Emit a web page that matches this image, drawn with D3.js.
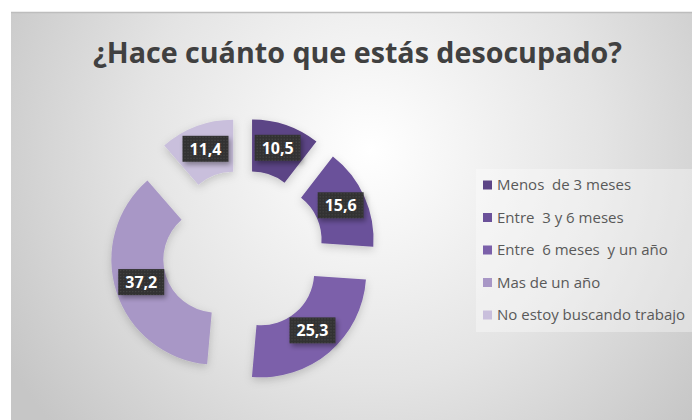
<!DOCTYPE html>
<html>
<head>
<meta charset="utf-8">
<script src="https://cdn.jsdelivr.net/npm/d3@7"></script>
<style>
  html, body { margin: 0; padding: 0; background: #fff; }
  svg { display: block; }
</style>
</head>
<body>
<div id="main"></div>
<script>
// chart data
var title = '¿Hace cuánto que estás desocupado?';
var categories = ['Menos  de 3 meses', 'Entre  3 y 6 meses', 'Entre  6 meses  y un año', 'Mas de un año', 'No estoy buscando trabajo'];
var values = [10.5, 15.6, 25.3, 37.2, 11.4];
var labels = ['10,5', '15,6', '25,3', '37,2', '11,4'];
var colors = ['#5c4486', '#6b519a', '#7b60aa', '#a897c6', '#c9bfdc'];

function create_donut() {

  var width = 692;
  var height = 420;

  var svg = d3.select('#main').append('svg').attr('width', width).attr('height', height);

  var defs = svg.append('defs');

  var grad = defs.append('radialGradient')
    .attr('id', 'bg')
    .attr('gradientUnits', 'userSpaceOnUse')
    .attr('cx', 370).attr('cy', 150).attr('r', 420);
  grad.append('stop').attr('offset', '0%').attr('stop-color', '#ffffff');
  grad.append('stop').attr('offset', '55%').attr('stop-color', '#e4e4e4');
  grad.append('stop').attr('offset', '100%').attr('stop-color', '#c6c6c6');

  var shadow = defs.append('filter').attr('id', 'shadow')
    .attr('x', '-30%').attr('y', '-30%').attr('width', '160%').attr('height', '160%');
  shadow.append('feDropShadow')
    .attr('dx', 2).attr('dy', 3).attr('stdDeviation', 2.5)
    .attr('flood-color', '#000').attr('flood-opacity', 0.35);

  var soft = defs.append('filter').attr('id', 'soft')
    .attr('x', '-20%').attr('y', '-20%').attr('width', '140%').attr('height', '140%');
  soft.append('feDropShadow')
    .attr('dx', 0).attr('dy', 3).attr('stdDeviation', 4)
    .attr('flood-color', '#000').attr('flood-opacity', 0.18);

  var dots = defs.append('pattern').attr('id', 'dots')
    .attr('width', 3).attr('height', 3).attr('patternUnits', 'userSpaceOnUse');
  dots.append('rect').attr('width', 3).attr('height', 3).attr('fill', '#333333');
  dots.append('rect').attr('width', 1).attr('height', 1).attr('fill', '#4a4a4a');

  // chart area
  svg.append('rect')
    .attr('x', 11).attr('y', 12)
    .attr('width', width - 11).attr('height', height - 12)
    .attr('fill', 'url(#bg)');

  svg.append('line')
    .attr('x1', 11).attr('x2', width)
    .attr('y1', 12.5).attr('y2', 12.5)
    .attr('stroke', '#bdbdbd').attr('stroke-width', 1.5);

  // title
  var t = svg.append('text')
    .attr('x', 357.5).attr('y', 63)
    .attr('text-anchor', 'middle')
    .attr('font-family', 'Open Sans, sans-serif')
    .attr('font-weight', 700)
    .attr('font-size', 28)
    .attr('fill', '#404040')
    .text(title);
  var tw = t.node().getComputedTextLength();
  t.attr('font-size', 28 * 529 / tw);

  // donut
  var cx = 243;
  var cy = 251;
  var outerR = 105;
  var innerR = 53;
  var explode = 28;

  var pie = d3.pie().sort(null).value(function (d) {

    return d
  });

  var arc = d3.arc().innerRadius(innerR).outerRadius(outerR);

  var arcs = pie(values);

  var g = svg.append('g').attr('transform', 'translate(' + cx + ',' + cy + ')');

  var slice = g.selectAll('.slice')
    .data(arcs)
    .enter()
    .append('g')
    .attr('class', 'slice')
    .attr('transform', function (d) {

      var a = (d.startAngle + d.endAngle) / 2;
      return 'translate(' + (explode * Math.sin(a)) + ',' + (-explode * Math.cos(a)) + ')'
    });

  slice.append('path')
    .attr('d', arc)
    .attr('fill', function (d, i) {

      return colors[i]
    })
    .attr('filter', 'url(#soft)');

  var lab = slice.append('g')
    .attr('transform', function (d) {

      var c = arc.centroid(d);
      return 'translate(' + c[0] + ',' + (c[1] - 2) + ')'
    });

  lab.append('rect')
    .attr('x', -23).attr('y', -13)
    .attr('width', 46).attr('height', 26)
    .attr('fill', 'url(#dots)')
    .attr('filter', 'url(#shadow)');

  lab.append('text')
    .attr('text-anchor', 'middle')
    .attr('dy', '0.36em')
    .attr('font-family', 'Open Sans, sans-serif')
    .attr('font-weight', 700)
    .attr('font-size', 16)
    .attr('fill', '#ffffff')
    .text(function (d, i) {

      return labels[i]
    });

  // legend
  svg.append('rect')
    .attr('x', 476).attr('y', 169)
    .attr('width', 216).attr('height', 163)
    .attr('fill', '#ffffff').attr('opacity', 0.35);

  var y = d3.scalePoint()
    .domain(categories)
    .range([185, 315]);

  var leg = svg.selectAll('.legend')
    .data(categories)
    .enter()
    .append('g')
    .attr('class', 'legend')
    .attr('transform', function (d) {

      return 'translate(483,' + y(d) + ')'
    });

  leg.append('rect')
    .attr('x', 0).attr('y', -4.5)
    .attr('width', 9).attr('height', 9)
    .attr('fill', function (d, i) {

      return colors[i]
    });

  leg.append('text')
    .attr('x', 14)
    .attr('dy', '0.36em')
    .attr('font-family', 'Open Sans, sans-serif')
    .attr('font-size', 15)
    .attr('fill', '#595959')
    .style('white-space', 'pre')
    .text(function (d) {

      return d
    });
}

create_donut();
</script>
</body>
</html>
